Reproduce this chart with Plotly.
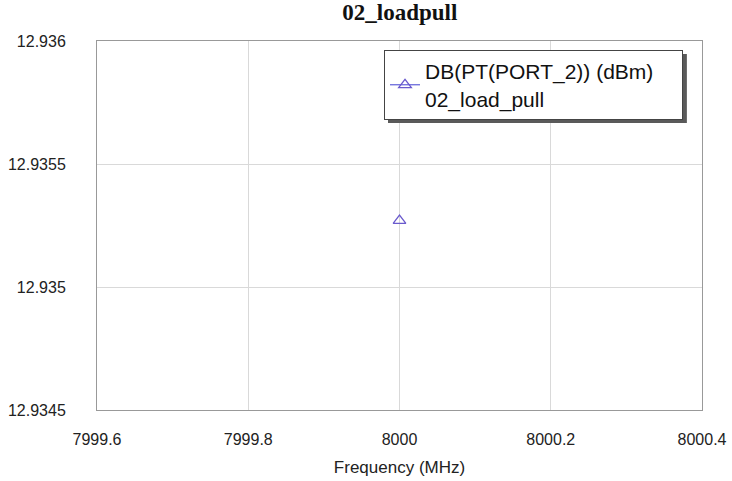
import plotly.graph_objects as go

freq_mhz = [8000.0]
pout_dbm = [12.93527]
x_ticks = [7999.6, 7999.8, 8000.0, 8000.2, 8000.4]
x_tick_labels = ["7999.6", "7999.8", "8000", "8000.2", "8000.4"]
y_ticks = [12.9345, 12.935, 12.9355, 12.936]
y_tick_labels = ["12.9345", "12.935", "12.9355", "12.936"]
series_name = "DB(PT(PORT_2)) (dBm)&nbsp;&nbsp;&nbsp;&nbsp;<br>02_load_pull"
title_text = "02_loadpull"

fig = go.Figure()
fig.add_trace(go.Scatter(
    x=freq_mhz, y=pout_dbm, mode="lines+markers", name=series_name,
    line=dict(color="#3f3fd0", width=1),
    marker=dict(symbol="triangle-up-open", size=11, color="#6a5acd", line=dict(width=1.3)),
))

fig.update_layout(
    width=732, height=481,
    margin=dict(l=97, r=30, t=41, b=71),
    paper_bgcolor="white", plot_bgcolor="white",
    title=dict(text="<b>" + title_text + "</b>", x=0.5462, xanchor="center", y=0.992, yanchor="top",
               font=dict(family="Liberation Serif, Times New Roman, serif", size=23, color="#111")),
    font=dict(family="Liberation Sans, Arial, sans-serif", size=16, color="#222"),
    showlegend=True,
    legend=dict(x=0.4744, y=0.9756, xanchor="left", yanchor="top",
                bgcolor="white", bordercolor="#444", borderwidth=1,
                font=dict(size=21, color="#111"), itemwidth=30,
                tracegroupgap=0),
    shapes=[dict(type="rect", xref="paper", yref="paper",
                 x0=0.481, x1=0.975, y0=0.778, y1=0.965,
                 fillcolor="#5a5a5a", line=dict(width=0), layer="above")],
)
fig.update_xaxes(range=[7999.6, 8000.4], tickvals=x_ticks, ticktext=x_tick_labels,
                 showgrid=True, gridcolor="#d9d9d9", gridwidth=1,
                 showline=True, linecolor="#999", linewidth=1, mirror=True,
                 zeroline=False, ticks="", ticklabelstandoff=15, automargin=False,
                 title=dict(text="Frequency (MHz)", standoff=13, font=dict(size=17)),
                 tickfont=dict(size=16))
fig.update_yaxes(range=[12.9345, 12.936], tickvals=y_ticks, ticktext=y_tick_labels,
                 showgrid=True, gridcolor="#d9d9d9", gridwidth=1,
                 showline=True, linecolor="#999", linewidth=1, mirror=True,
                 zeroline=False, ticks="", ticklabelstandoff=27, automargin=False,
                 tickfont=dict(size=16))

fig.write_html("out.html", config={"displayModeBar": False},
               post_script="document.body.style.margin='0px';document.body.style.overflow='hidden';")
